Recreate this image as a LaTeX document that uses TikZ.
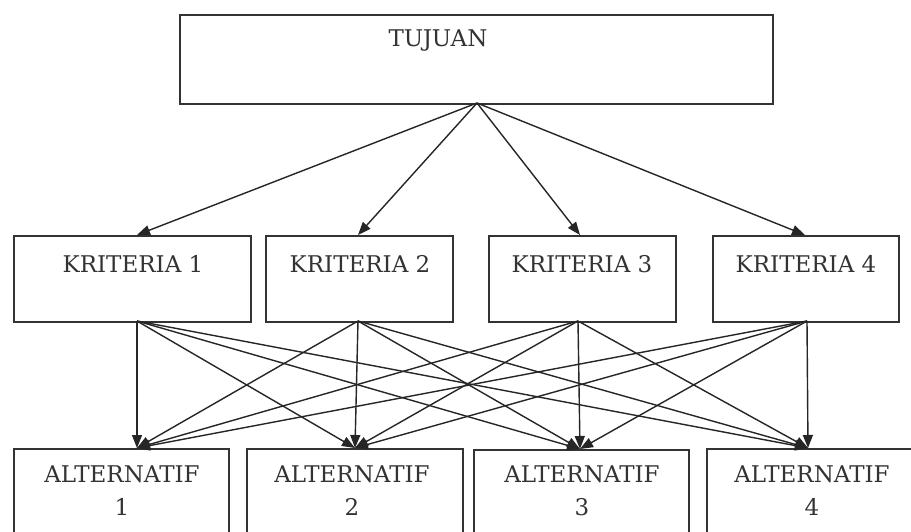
\documentclass[tikz,border=0pt]{standalone}
\usepackage{fontspec}
\setmainfont{DejaVu Serif}
\usetikzlibrary{arrows.meta}
\begin{document}
\begin{tikzpicture}[x=1pt,y=-1pt,
  box/.style={draw=black!80, line width=1.8pt, rectangle, inner sep=0pt, anchor=north west},
  lbl/.style={anchor=base, inner sep=0pt, font=\fontsize{23}{23}\selectfont, text=black!80},
  link/.style={draw=black!85, line width=1.4pt, -{Triangle[length=13pt,width=10pt]}}]
\useasboundingbox (0,0) rectangle (911,532);
\clip (0,0) rectangle (911,532);
\fill[white] (0,0) rectangle (911,532);

% goal
\node[box, minimum width=593pt, minimum height=89pt] (goal) at (179,14) {};
\node[lbl] (tgoal) at (438,47) {TUJUAN};

% criteria
\node[box, minimum width=237pt, minimum height=86pt] (k1) at (13,235) {};
\node[box, minimum width=187pt, minimum height=86pt] (k2) at (265,235) {};
\node[box, minimum width=187pt, minimum height=86pt] (k3) at (488,235) {};
\node[box, minimum width=186pt, minimum height=86pt] (k4) at (712,235) {};
\node[lbl] (tk1) at (133,272) {KRITERIA 1};
\node[lbl] (tk2) at (360,272) {KRITERIA 2};
\node[lbl] (tk3) at (582,272) {KRITERIA 3};
\node[lbl] (tk4) at (806,272) {KRITERIA 4};

% alternatives
\node[box, minimum width=215pt, minimum height=110pt] (a1) at (13,448) {};
\node[box, minimum width=216pt, minimum height=110pt] (a2) at (246,448) {};
\node[box, minimum width=215pt, minimum height=110pt] (a3) at (473,449) {};
\node[box, minimum width=215pt, minimum height=110pt] (a4) at (706,448) {};
\node[lbl] (ta1) at (122,482) {ALTERNATIF};
\node[lbl] (na1) at (122,515) {1};
\node[lbl] (ta2) at (352,482) {ALTERNATIF};
\node[lbl] (na2) at (352,515) {2};
\node[lbl] (ta3) at (582,482) {ALTERNATIF};
\node[lbl] (na3) at (582,515) {3};
\node[lbl] (ta4) at (812,482) {ALTERNATIF};
\node[lbl] (na4) at (812,515) {4};

% connection points on the box edges
\coordinate (g) at (477,103);
\coordinate (k1t) at (137,235); \coordinate (k1b) at (137,321);
\coordinate (k2t) at (358,235); \coordinate (k2b) at (358,321);
\coordinate (k3t) at (580,235); \coordinate (k3b) at (578,321);
\coordinate (k4t) at (805,235); \coordinate (k4b) at (807,321);
\coordinate (a1t) at (137,448);
\coordinate (a2t) at (355,448);
\coordinate (a3t) at (580,449);
\coordinate (a4t) at (808,448);

% goal to criteria
\foreach \k in {1,2,3,4} \draw[link] (g) -- (k\k t);
% every criterion to every alternative
\foreach \k in {1,2,3,4}
  \foreach \a in {1,2,3,4}
    \draw[link] (k\k b) -- (a\a t);
\end{tikzpicture}
\end{document}
